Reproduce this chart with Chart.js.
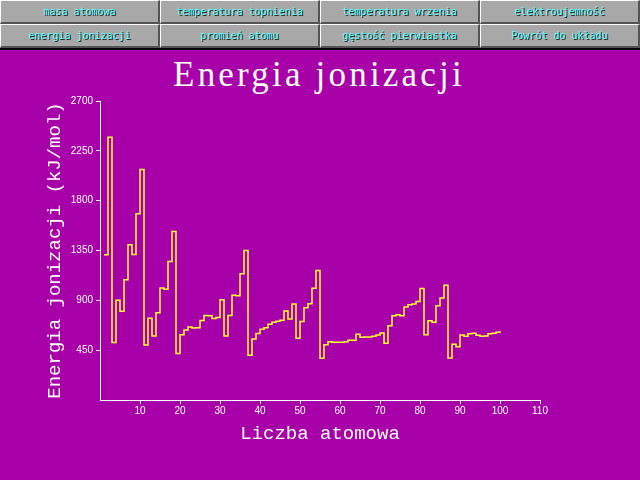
<!DOCTYPE html>
<html>
<head>
<meta charset="utf-8">
<title>Energia jonizacji</title>
<script src="https://cdn.jsdelivr.net/npm/chart.js@4"></script>
<style>
  body {
    margin: 0;
    width: 640px;
    height: 480px;
    background: #a800a8;
    overflow: hidden;
    position: relative;
  }
  #menu {
    position: absolute;
    left: 0;
    top: 0;
    width: 640px;
    height: 50px;
    background: #000;
  }
  .btn {
    position: absolute;
    width: 157px;
    height: 21px;
    background: #a8a8a8;
    border-top: 1px solid #fff;
    border-left: 1px solid #fff;
    border-right: 2px solid #545454;
    border-bottom: 2px solid #545454;
    color: #55ffff;
    font: 10px "DejaVu Sans Mono", monospace;
    line-height: 22px;
    text-align: center;
    text-shadow: 1px 1px 0 #1a1a1a;
  }
  #title {
    position: absolute;
    left: 0;
    top: 57px;
    width: 638px;
    text-align: center;
    color: #fff;
    font: 35px "Liberation Serif", serif;
    line-height: 35px;
    letter-spacing: 3.2px;
  }
  #chartBox {
    position: absolute;
    left: 0;
    top: 50px;
    width: 640px;
    height: 430px;
  }
</style>
</head>
<body>
<div id="menu"></div>
<div id="title">Energia jonizacji</div>
<div id="chartBox"><canvas id="ionChart"></canvas></div>

<script>
const menuLabels = [
  "masa atomowa", "temperatura topnienia", "temperatura wrzenia", "elektroujemność",
  "energia jonizacji", "promień atomu", "gęstość pierwiastka", "Powrót do układu"
];

const atomicNumbers = [
  1, 2, 3, 4, 5, 6, 7, 8, 9, 10,
  11, 12, 13, 14, 15, 16, 17, 18, 19, 20,
  21, 22, 23, 24, 25, 26, 27, 28, 29, 30,
  31, 32, 33, 34, 35, 36, 37, 38, 39, 40,
  41, 42, 43, 44, 45, 46, 47, 48, 49, 50,
  51, 52, 53, 54, 55, 56, 57, 58, 59, 60,
  61, 62, 63, 64, 65, 66, 67, 68, 69, 70,
  71, 72, 73, 74, 75, 76, 77, 78, 79, 80,
  81, 82, 83, 84, 85, 86, 87, 88, 89, 90,
  91, 92, 93, 94, 95, 96, 97, 98, 99, 100
];

// kJ/mol
const ionizationEnergy = [
  1312, 2372, 520, 900, 801, 1086, 1402, 1314, 1681, 2081,
  496, 738, 578, 787, 1012, 1000, 1251, 1521, 419, 590,
  633, 659, 651, 653, 717, 763, 760, 737, 746, 906,
  579, 762, 947, 941, 1140, 1351, 403, 550, 600, 640,
  652, 684, 702, 710, 720, 804, 731, 868, 558, 709,
  834, 869, 1008, 1170, 376, 500, 525, 521, 521, 521,
  527, 539, 539, 593, 566, 569, 569, 575, 587, 605,
  512, 670, 761, 770, 760, 840, 860, 868, 890, 1007,
  589, 716, 703, 850, 920, 1037, 380, 503, 480, 587,
  575, 598, 602, 585, 575, 578, 598, 603, 611, 620
];

const xTickValues = [10, 20, 30, 40, 50, 60, 70, 80, 90, 100, 110];
const yTickValues = [450, 900, 1350, 1800, 2250, 2700];

// menu buttons
const menu = document.getElementById("menu");
menuLabels.forEach((label, i) => {
  const b = document.createElement("div");
  b.className = "btn";
  b.style.left = (i % 4) * 160 + "px";
  b.style.top = Math.floor(i / 4) * 24 + "px";
  b.textContent = label;
  menu.appendChild(b);
});

const white = "#ffffff";
const tickFont = { family: "'Liberation Sans', sans-serif", size: 10 };
const axisTitleFont = { family: "'Liberation Mono', monospace", size: 19 };

const ctx = document.getElementById("ionChart").getContext("2d");

new Chart(ctx, {
  type: "line",
  data: {
    datasets: [
      {
        data: atomicNumbers.map((z, i) => ({ x: z, y: ionizationEnergy[i] })),
        borderColor: "#ffff33",
        borderWidth: 1.5,
        pointRadius: 0,
        stepped: true,
        fill: false,
      },
    ],
  },
  options: {
    responsive: true,
    maintainAspectRatio: false,
    animation: false,
    layout: { padding: { left: 0, right: 100, top: 51, bottom: 0 } },
    plugins: {
      legend: { display: false },
      tooltip: { enabled: false },
    },
    scales: {
      x: {
        type: "linear",
        min: 0,
        max: 110,
        afterBuildTicks: (scale) => {
          scale.ticks = xTickValues.map((v) => ({ value: v }));
        },
        afterFit: (scale) => {
          scale.height = 80;
        },
        border: { color: white, width: 1 },
        grid: { drawOnChartArea: false, color: white, tickLength: 4 },
        ticks: {
          color: white,
          font: tickFont,
          padding: 1,
          maxRotation: 0,
          autoSkip: false,
          callback: (v) => String(v),
        },
        title: {
          display: true,
          text: "Liczba atomowa",
          color: white,
          font: axisTitleFont,
          padding: { top: 0, bottom: 35 },
        },
      },
      y: {
        min: 0,
        max: 2700,
        afterBuildTicks: (scale) => {
          scale.ticks = yTickValues.map((v) => ({ value: v }));
        },
        afterFit: (scale) => {
          scale.width = 100;
        },
        border: { color: white, width: 1 },
        grid: { drawOnChartArea: false, color: white, tickLength: 4 },
        ticks: { color: white, font: tickFont, padding: 3, callback: (v) => String(v) },
        title: {
          display: true,
          text: "Energia jonizacji (kJ/mol)",
          color: white,
          font: axisTitleFont,
          padding: { top: 44, bottom: 0 },
        },
      },
    },
  },
});
</script>
</body>
</html>
